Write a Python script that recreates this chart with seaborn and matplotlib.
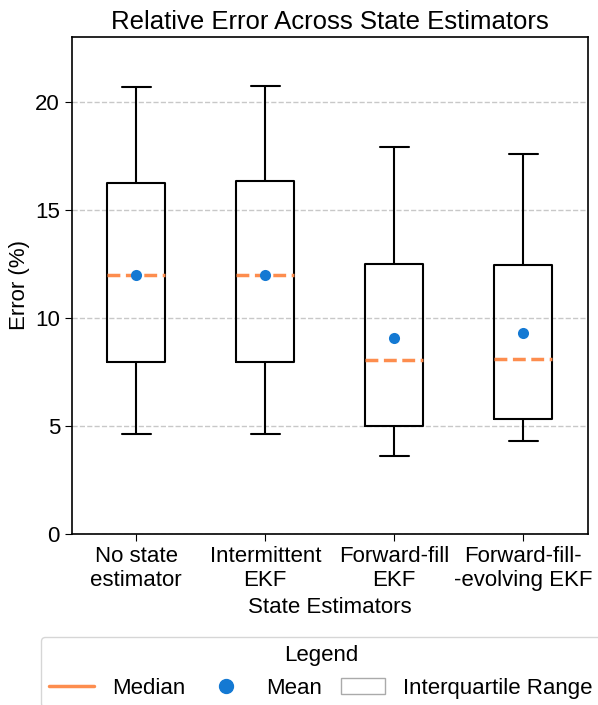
import matplotlib
matplotlib.use("Agg")
import matplotlib.pyplot as plt
import seaborn as sns
import pandas as pd
from matplotlib.lines import Line2D
from matplotlib.patches import Patch

sns.set_style("ticks")
plt.rcParams['font.family'] = ['Liberation Sans', 'DejaVu Sans']
plt.rcParams['text.color'] = 'black'
plt.rcParams['axes.labelcolor'] = 'black'
plt.rcParams['xtick.color'] = 'black'
plt.rcParams['ytick.color'] = 'black'

# five-number summaries (min, q1, median, q3, max)
estimators = ['No state\nestimator', 'Intermittent\nEKF', 'Forward-fill\nEKF', 'Forward-fill-\n-evolving EKF']
err_min = [4.63, 4.62, 3.61, 4.30]
err_q1 = [7.96, 7.95, 5.00, 5.32]
err_median = [12.0, 12.0, 8.05, 8.10]
err_q3 = [16.25, 16.34, 12.50, 12.45]
err_max = [20.69, 20.74, 17.92, 17.59]
err_mean = [11.98, 12.0, 9.07, 9.30]

median_color = '#fd8d4e'
mean_color = '#1479d3'

# long table: the five summary points for each estimator
rows = []
for i, name in enumerate(estimators):
    for v in (err_min[i], err_q1[i], err_median[i], err_q3[i], err_max[i]):
        rows.append({'Estimator': name, 'Error': v})
df = pd.DataFrame(rows)

fig, ax = plt.subplots(figsize=(5.98, 7.05), dpi=100)
fig.subplots_adjust(left=0.120, right=0.983, bottom=0.2426, top=0.9475)

sns.boxplot(data=df, x='Estimator', y='Error', order=estimators, ax=ax,
            whis=(0, 100), width=0.45, fill=False, color='black', linewidth=1.5,
            medianprops=dict(color=median_color, linestyle='--', linewidth=2.5),
            showfliers=False)
sns.stripplot(x=estimators, y=err_mean, order=estimators, jitter=False, ax=ax,
              color=mean_color, size=8, zorder=5)

ax.set_ylim(0, 23)
ax.set_xlim(-0.5, 3.5)
ax.set_yticks([0, 5, 10, 15, 20])
ax.yaxis.grid(True, linestyle='--', color='#c8c8c8', linewidth=1)
ax.set_axisbelow(True)
for s in ax.spines.values():
    s.set_color('black')
    s.set_linewidth(1.2)
ax.tick_params(labelsize=16, color='black', length=5)

ax.set_title('Relative Error Across State Estimators', fontsize=18.5)
ax.set_xlabel('State Estimators', fontsize=16)
ax.set_ylabel('Error (%)', fontsize=16)

handles = [
    Line2D([0], [0], color=median_color, linewidth=2.5),
    Line2D([0], [0], marker='o', linestyle='none', color=mean_color, markersize=10),
    Patch(facecolor='white', edgecolor='#aaaaaa'),
]
ax.legend(handles, ['Median', 'Mean', 'Interquartile Range'], title='Legend',
          loc='upper center', bbox_to_anchor=(0.483, -0.184), ncol=3,
          columnspacing=0.85, fontsize=16, title_fontsize=16)

fig.savefig('out.png', dpi=100)
